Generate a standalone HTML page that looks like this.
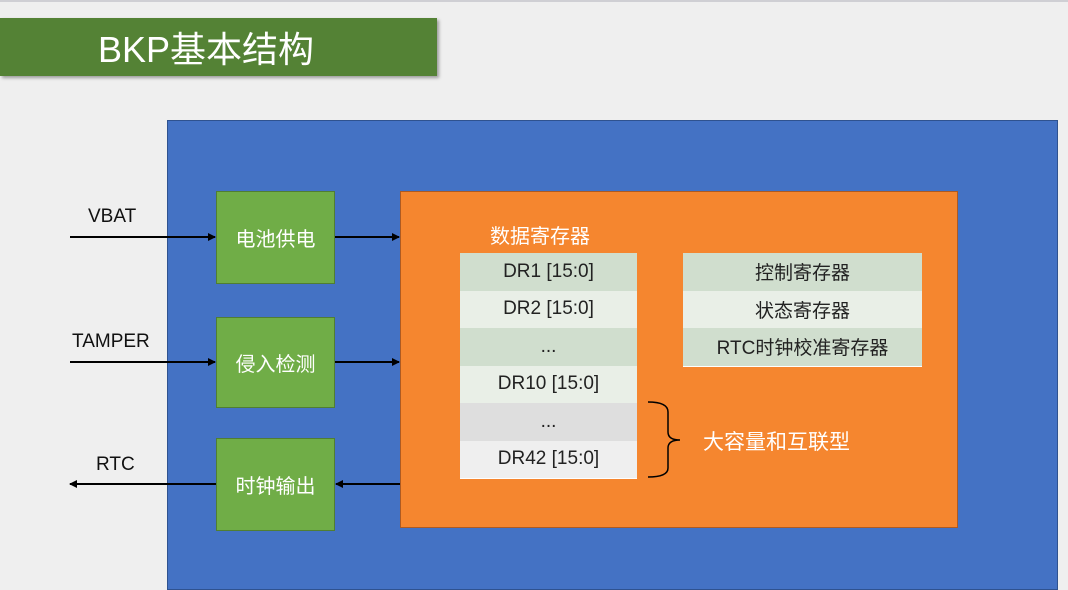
<!DOCTYPE html>
<html><head><meta charset="utf-8"><style>
body{margin:0;width:1068px;height:583px;overflow:hidden;background:#efefef;position:relative;font-family:"Liberation Sans","Noto Sans CJK SC",sans-serif;}
.a{position:absolute;box-sizing:border-box}
.g{background:#70ad47;border:1px solid #507e32;color:#fff;font-size:20px;display:flex;align-items:center;justify-content:center}
.row{position:absolute;left:0;width:100%;height:37.5px;display:flex;align-items:center;justify-content:center;font-size:19px;color:#222;border-bottom:1px solid #fff}
.lbl{position:absolute;font-size:19px;color:#111}
</style></head><body>
<div class="a" style="left:0;top:0;width:1068px;height:2px;background:#cfcfd4"></div>
<div class="a" style="left:0;top:18px;width:437px;height:58px;background:#548235;box-shadow:2px 2px 3px rgba(0,0,0,.35);color:#fff;font-size:36px;display:flex;align-items:center;padding-left:98px">BKP基本结构</div>
<div class="a" style="left:167px;top:120px;width:891px;height:470px;background:#4472c4;border:1px solid #2f528f"></div>
<div class="a" style="left:400px;top:191px;width:558px;height:337px;background:#f5862f;border:1px solid #ae5a21"></div>
<div class="a g" style="left:216px;top:191px;width:119px;height:93px">电池供电</div>
<div class="a g" style="left:216px;top:317px;width:119px;height:91px">侵入检测</div>
<div class="a g" style="left:216px;top:438px;width:119px;height:93px">时钟输出</div>
<div class="lbl" style="left:88px;top:206px">VBAT</div>
<div class="lbl" style="left:72px;top:331px">TAMPER</div>
<div class="lbl" style="left:96px;top:454px">RTC</div>
<div class="a" style="left:490px;top:220px;color:#fff;font-size:20px">数据寄存器</div>
<div class="a" style="left:460px;top:253px;width:177px;height:225px">
<div class="row" style="top:0;background:#d0dece">DR1 [15:0]</div>
<div class="row" style="top:37.5px;background:#e9efe7">DR2 [15:0]</div>
<div class="row" style="top:75px;background:#d0dece">...</div>
<div class="row" style="top:112.5px;background:#e9efe7">DR10 [15:0]</div>
<div class="row" style="top:150px;background:#dedede">...</div>
<div class="row" style="top:187.5px;background:#efefef">DR42 [15:0]</div>
</div>
<div class="a" style="left:683px;top:253px;width:239px;height:113px">
<div class="row" style="top:0;background:#d0dece">控制寄存器</div>
<div class="row" style="top:37.5px;background:#e9efe7">状态寄存器</div>
<div class="row" style="top:75px;background:#d0dece">RTC时钟校准寄存器</div>
</div>
<div class="a" style="left:703px;top:426px;color:#fff;font-size:21px">大容量和互联型</div>
<svg class="a" style="left:0;top:0" width="1068" height="583">
<defs><marker id="m" markerWidth="8" markerHeight="8" refX="7" refY="4" orient="auto" markerUnits="userSpaceOnUse"><path d="M0,0L8,4L0,8z" fill="#000"/></marker></defs>
<g stroke="#000" stroke-width="2" fill="none">
<line x1="70" y1="237" x2="215" y2="237" marker-end="url(#m)"/>
<line x1="335" y1="237" x2="399" y2="237" marker-end="url(#m)"/>
<line x1="70" y1="362" x2="215" y2="362" marker-end="url(#m)"/>
<line x1="335" y1="362" x2="399" y2="362" marker-end="url(#m)"/>
<line x1="400" y1="484" x2="336" y2="484" marker-end="url(#m)"/>
<line x1="216" y1="484" x2="70" y2="484" marker-end="url(#m)"/>
<path d="M648,402 Q668,402 668,412 L668,432 Q668,440 680,440 Q668,440 668,448 L668,468 Q668,477 648,477" stroke-width="1.5"/>
</g></svg>
</body></html>
